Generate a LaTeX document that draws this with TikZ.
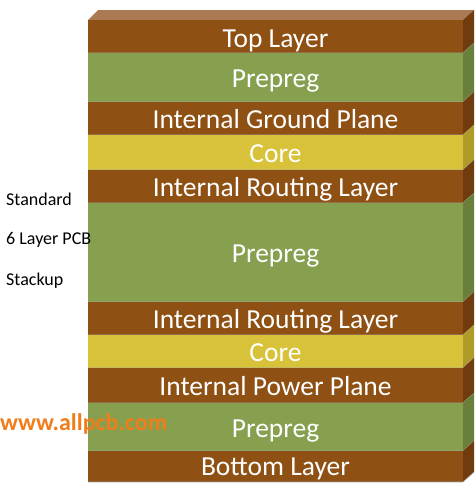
\documentclass[tikz,border=0pt]{standalone}
\usepackage{fontspec}
\setmainfont{Carlito}
\definecolor{brF}{RGB}{143,80,20}
\definecolor{brS}{RGB}{112,60,14}
\definecolor{grF}{RGB}{135,160,80}
\definecolor{grS}{RGB}{105,128,60}
\definecolor{yeF}{RGB}{216,194,58}
\definecolor{yeS}{RGB}{175,155,40}
\definecolor{topF}{RGB}{172,122,82}
\definecolor{webC}{RGB}{240,125,25}
\begin{document}
\begin{tikzpicture}[x=1pt,y=-1pt,
  laytext/.style={text=white,font=\fontsize{27.5}{30}\selectfont,anchor=base,inner sep=0pt},
  sidetext/.style={text=black,font=\fontsize{18}{20}\selectfont,anchor=base west,inner sep=0pt},
  webtext/.style={text=webC,font=\bfseries\fontsize{24}{26}\selectfont,anchor=base west,inner sep=0pt}]
\useasboundingbox (0,0) rectangle (474,490);
\fill[white] (0,0) rectangle (474,490);
% top face
\fill[topF] (88,20) -- (98,10) -- (474,10) -- (463,20) -- cycle;
\foreach \ya/\yb/\fc/\sc in {
  20/53/brF/brS,
  53/102/grF/grS,
  102/135/brF/brS,
  135/170/yeF/yeS,
  170/203/brF/brS,
  203/302/grF/grS,
  302/335/brF/brS,
  335/368/yeF/yeS,
  368/403/brF/brS,
  403/451/grF/grS,
  451/482/brF/brS}{
  \fill[\fc] (88,\ya) rectangle (463,\yb);
  \fill[\sc] (463,\ya) -- (474,\ya-10) -- (474,\yb-10) -- (463,\yb) -- cycle;
  \draw[black!35,line width=0.6pt] (88,\yb) -- (463,\yb) -- (474,\yb-10);
}
\node[laytext] (l1) at (275.5,47) {Top Layer};
\node[laytext] (l2) at (275.5,87) {Prepreg};
\node[laytext] (l3) at (275.5,128) {Internal Ground Plane};
\node[laytext] (l4) at (275.5,162) {Core};
\node[laytext] (l5) at (275.5,196) {Internal Routing Layer};
\node[laytext] (l6) at (275.5,262) {Prepreg};
\node[laytext] (l7) at (275.5,328) {Internal Routing Layer};
\node[laytext] (l8) at (275.5,361) {Core};
\node[laytext] (l9) at (275.5,395) {Internal Power Plane};
\node[laytext] (l10) at (275.5,437) {Prepreg};
\node[laytext] (l11) at (275.5,475) {Bottom Layer};
\node[sidetext] (s1) at (6,205) {Standard};
\node[sidetext] (s2) at (6,244) {6 Layer PCB};
\node[sidetext] (s3) at (6,285) {Stackup};
\node[webtext] (w) at (0,430) {www.allpcb.com};
\end{tikzpicture}
\end{document}
